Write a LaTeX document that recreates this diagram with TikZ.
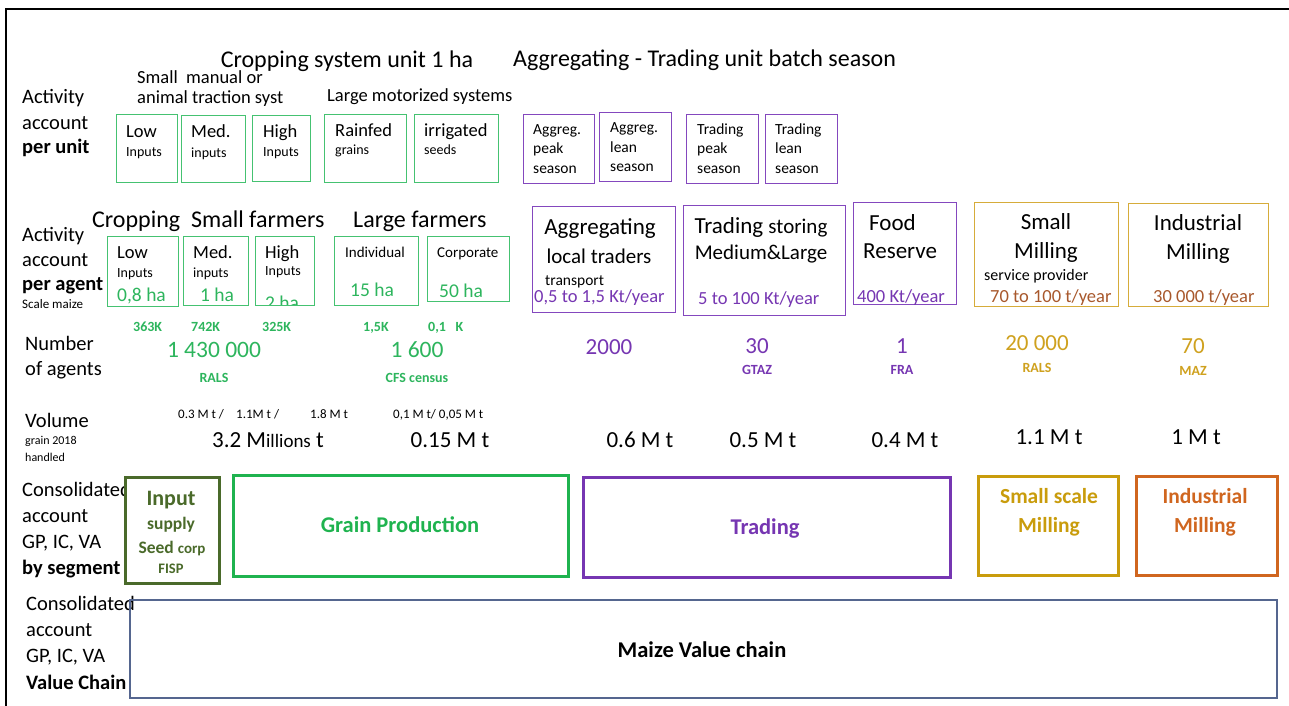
\documentclass[tikz,border=0pt]{standalone}
\usepackage{fontspec}
\setmainfont{Carlito}
\definecolor{lgreen}{HTML}{45C271}
\definecolor{tgreen}{HTML}{2DB55D}
\definecolor{gpgreen}{HTML}{1FB34F}
\definecolor{dgreen}{HTML}{4A6A2A}
\definecolor{purp}{HTML}{8448BE}
\definecolor{tpurp}{HTML}{7636B2}
\definecolor{gold}{HTML}{D6AC3A}
\definecolor{tgold}{HTML}{CFA11E}
\definecolor{segold}{HTML}{C99C0C}
\definecolor{brwn}{HTML}{A8582C}
\definecolor{orng}{HTML}{D0661F}
\definecolor{slate}{HTML}{55668F}
\newcommand\fsz[1]{\fontsize{#1}{#1}\selectfont}
\begin{document}
\begin{tikzpicture}[x=1pt,y=-1pt,
  box/.style={draw, anchor=north west, inner sep=0pt, line width=1.3pt},
  gbx/.style={box, draw=lgreen},
  pbx/.style={box, draw=purp},
  ybx/.style={box, draw=gold},
  seg/.style={draw, anchor=north west, inner sep=0pt, line width=3pt},
  lw/.style={inner sep=0pt, anchor=base west},
  lc/.style={inner sep=0pt, anchor=base}]
\useasboundingbox (0,0) rectangle (1289,706);
\fill[white] (0,0) rectangle (1289,706);
\draw[line width=2.5pt] (6,706) -- (6,9) -- (1289,9);

% ---------- row 1 : per unit ----------
\node[lc, font=\fsz{24}] (tcrop) at (347,68) {Cropping system unit 1 ha};
\node[lw, font=\fsz{24}] (tagg) at (513,67) {Aggregating - Trading unit batch season};
\node[lw, font=\fsz{18.5}] (small1) at (137,84) {Small\ \ manual or};
\node[lw, font=\fsz{18.5}] (small2) at (137,104) {animal traction syst};
\node[lw, font=\fsz{18.5}] (large1) at (327,102) {Large motorized systems};
\node[lw, font=\fsz{20.5}] (l1a) at (22,104) {Activity};
\node[lw, font=\fsz{20.5}] (l1b) at (22,129) {account};
\node[lw, font=\fsz{20.5}\bfseries] (l1c) at (22,153) {per unit};

\node[gbx, minimum width=61pt, minimum height=68pt] (u1) at (116,114) {};
\node[lw, font=\fsz{18.5}] (u1a) at (126,137) {Low};
\node[lw, font=\fsz{14}] (u1b) at (126,156) {Inputs};
\node[gbx, minimum width=64pt, minimum height=67pt] (u2) at (181,115) {};
\node[lw, font=\fsz{18.5}] (u2a) at (191,137) {Med.};
\node[lw, font=\fsz{14}] (u2b) at (191,157) {inputs};
\node[gbx, minimum width=58pt, minimum height=66pt] (u3) at (252,115) {};
\node[lw, font=\fsz{18.5}] (u3a) at (263,137) {High};
\node[lw, font=\fsz{14}] (u3b) at (263,156) {Inputs};
\node[gbx, minimum width=82pt, minimum height=68pt] (u4) at (324,114) {};
\node[lw, font=\fsz{18.5}] (u4a) at (335,136) {Rainfed};
\node[lw, font=\fsz{14}] (u4b) at (335,154) {grains};
\node[gbx, minimum width=84pt, minimum height=68pt] (u5) at (414,114) {};
\node[lw, font=\fsz{18.5}] (u5a) at (424,136) {irrigated};
\node[lw, font=\fsz{14}] (u5b) at (424,154) {seeds};

\node[pbx, minimum width=71pt, minimum height=69pt] (p1) at (523,114) {};
\node[lw, font=\fsz{15.5}] (p1a) at (533,135) {Aggreg.};
\node[lw, font=\fsz{15.5}] (p1b) at (533,153) {peak};
\node[lw, font=\fsz{15.5}] (p1c) at (533,173) {season};
\node[pbx, minimum width=72pt, minimum height=69pt] (p2) at (599,112) {};
\node[lw, font=\fsz{15.5}] (p2a) at (610,132) {Aggreg.};
\node[lw, font=\fsz{15.5}] (p2b) at (610,152) {lean};
\node[lw, font=\fsz{15.5}] (p2c) at (610,171) {season};
\node[pbx, minimum width=72pt, minimum height=69pt] (p3) at (686,114) {};
\node[lw, font=\fsz{15.5}] (p3a) at (697,135) {Trading};
\node[lw, font=\fsz{15.5}] (p3b) at (697,153) {peak};
\node[lw, font=\fsz{15.5}] (p3c) at (697,173) {season};
\node[pbx, minimum width=72pt, minimum height=69pt] (p4) at (765,114) {};
\node[lw, font=\fsz{15.5}] (p4a) at (775,135) {Trading};
\node[lw, font=\fsz{15.5}] (p4b) at (775,153) {lean};
\node[lw, font=\fsz{15.5}] (p4c) at (775,173) {season};

% ---------- row 2 : per agent ----------
\node[lw, font=\fsz{24}] (tcs) at (92,227) {Cropping\ \ Small farmers};
\node[lw, font=\fsz{24}] (tlf) at (353,227) {Large farmers};
\node[lw, font=\fsz{20.5}] (l2a) at (22,241) {Activity};
\node[lw, font=\fsz{20.5}] (l2b) at (22,266) {account};
\node[lw, font=\fsz{20.5}\bfseries] (l2c) at (22,290) {per agent};
\node[lw, font=\fsz{13}] (l2d) at (22,308) {Scale maize};

\node[gbx, minimum width=71pt, minimum height=70pt] (a1) at (107,236) {};
\node[lw, font=\fsz{18.5}] (a1a) at (117,258) {Low};
\node[lw, font=\fsz{14}] (a1b) at (117,277) {Inputs};
\node[lw, font=\fsz{19.5}, text=tgreen] (a1c) at (117,301) {0,8 ha};
\node[gbx, minimum width=65pt, minimum height=69pt] (a2) at (183,236) {};
\node[lw, font=\fsz{18.5}] (a2a) at (193,258) {Med.};
\node[lw, font=\fsz{14}] (a2b) at (193,277) {inputs};
\node[lw, font=\fsz{19.5}, text=tgreen] (a2c) at (200,301) {1 ha};
\begin{scope}
\clip (250,230) rectangle (320,304);
\node[lw, font=\fsz{19.5}, text=tgreen] (a3c) at (265,309) {2 ha};
\end{scope}
\node[gbx, minimum width=59pt, minimum height=69pt] (a3) at (255,236) {};
\node[lw, font=\fsz{18.5}] (a3a) at (265,258) {High};
\node[lw, font=\fsz{14}] (a3b) at (265,275) {Inputs};
\node[gbx, minimum width=84pt, minimum height=69pt] (a4) at (334,236) {};
\node[lw, font=\fsz{15}] (a4a) at (345,257) {Individual};
\node[lw, font=\fsz{19.5}, text=tgreen] (a4c) at (350,296) {15 ha};
\node[gbx, minimum width=82pt, minimum height=65pt] (a5) at (427,236) {};
\node[lw, font=\fsz{15}] (a5a) at (437,257) {Corporate};
\node[lw, font=\fsz{19.5}, text=tgreen] (a5c) at (439,297) {50 ha};

\node[pbx, minimum width=143pt, minimum height=106pt] (b1) at (532,206) {};
\node[lc, font=\fsz{23}] (b1a) at (600,234) {Aggregating};
\node[lc, font=\fsz{21}] (b1b) at (599,263) {local traders};
\node[lw, font=\fsz{15.5}] (b1c) at (545,285) {transport};
\node[lw, font=\fsz{18.5}, text=tpurp] (b1d) at (534,302) {0,5 to 1,5 Kt/year};
\node[pbx, minimum width=162pt, minimum height=110pt] (b2) at (683,205) {};
\node[lc, font=\fsz{23}] (b2a) at (761,233) {Trading {\fsz{21}storing}};
\node[lc, font=\fsz{21}] (b2b) at (761,259) {Medium\&Large};
\node[lw, font=\fsz{18.5}, text=tpurp] (b2d) at (698,304) {5 to 100 Kt/year};
\node[pbx, minimum width=103pt, minimum height=102pt] (b3) at (853,202) {};
\node[lw, font=\fsz{23}] (b3a) at (869,230) {Food};
\node[lw, font=\fsz{23}] (b3b) at (863,258) {Reserve};
\node[lw, font=\fsz{18.5}, text=tpurp] (b3d) at (857,302) {400 Kt/year};
\node[ybx, minimum width=144pt, minimum height=104pt] (b4) at (974,202) {};
\node[lc, font=\fsz{23}] (b4a) at (1046,229) {Small};
\node[lc, font=\fsz{23}] (b4b) at (1046,258) {Milling};
\node[lw, font=\fsz{16}] (b4c) at (984,280) {service provider};
\node[lw, font=\fsz{18.5}, text=brwn] (b4d) at (990,302) {70 to 100 t/year};
\node[ybx, minimum width=140pt, minimum height=103pt] (b5) at (1128,203) {};
\node[lc, font=\fsz{23}] (b5a) at (1198,230) {Industrial};
\node[lc, font=\fsz{23}] (b5b) at (1198,259) {Milling};
\node[lw, font=\fsz{18.5}, text=brwn] (b5d) at (1153,302) {30 000 t/year};

% ---------- row 3 : number of agents ----------
\node[lw, font=\fsz{20.5}] (l3a) at (25,350) {Number};
\node[lw, font=\fsz{20.5}] (l3b) at (25,375) {of agents};
\node[lw, font=\fsz{14}\bfseries, text=tgreen] (n1) at (133,331) {363K};
\node[lw, font=\fsz{14}\bfseries, text=tgreen] (n2) at (191,331) {742K};
\node[lw, font=\fsz{14}\bfseries, text=tgreen] (n3) at (262,331) {325K};
\node[lw, font=\fsz{14}\bfseries, text=tgreen] (n4) at (363,331) {1,5K};
\node[lw, font=\fsz{14}\bfseries, text=tgreen] (n5) at (428,331) {0,1\ \ \ K};
\node[lc, font=\fsz{23.5}, text=tgreen] (n6) at (214,357) {1 430 000};
\node[lc, font=\fsz{14}\bfseries, text=tgreen] (n6s) at (214,382) {RALS};
\node[lc, font=\fsz{23.5}, text=tgreen] (n7) at (417,357) {1 600};
\node[lc, font=\fsz{14}\bfseries, text=tgreen] (n7s) at (417,382) {CFS census};
\node[lc, font=\fsz{23}, text=tpurp] (n8) at (609,354) {2000};
\node[lc, font=\fsz{23}, text=tpurp] (n9) at (757,353) {30};
\node[lc, font=\fsz{14}\bfseries, text=tpurp] (n9s) at (757,374) {GTAZ};
\node[lc, font=\fsz{23}, text=tpurp] (n10) at (902,353) {1};
\node[lc, font=\fsz{14}\bfseries, text=tpurp] (n10s) at (902,374) {FRA};
\node[lc, font=\fsz{23}, text=tgold] (n11) at (1037,350) {20 000};
\node[lc, font=\fsz{14}\bfseries, text=tgold] (n11s) at (1037,372) {RALS};
\node[lc, font=\fsz{23}, text=tgold] (n12) at (1193,353) {70};
\node[lc, font=\fsz{14}\bfseries, text=tgold] (n12s) at (1193,375) {MAZ};

% ---------- row 4 : volume ----------
\node[lw, font=\fsz{20.5}] (l4a) at (25,427) {Volume};
\node[lw, font=\fsz{12}] (l4b) at (25,444) {grain 2018};
\node[lw, font=\fsz{12}] (l4c) at (25,461) {handled};
\node[lw, font=\fsz{13}] (v1) at (178,418) {0.3 M t /};
\node[lw, font=\fsz{13}] (v2) at (236,418) {1.1M t /};
\node[lw, font=\fsz{13}] (v3) at (310,418) {1.8 M t};
\node[lw, font=\fsz{13}] (v4) at (393,418) {0,1 M t/ 0,05 M t};
\node[lc, font=\fsz{23}] (v5) at (268,447) {3.2 M{\fsz{19}illions} t};
\node[lc, font=\fsz{23}] (v6) at (450,447) {0.15 M t};
\node[lc, font=\fsz{23}] (v7) at (640,447) {0.6 M t};
\node[lc, font=\fsz{23}] (v8) at (763,447) {0.5 M t};
\node[lc, font=\fsz{23}] (v9) at (905,447) {0.4 M t};
\node[lc, font=\fsz{23}] (v10) at (1049,444) {1.1 M t};
\node[lc, font=\fsz{23}] (v11) at (1196,444) {1 M t};

% ---------- row 5 : by segment ----------
\node[lw, font=\fsz{20.5}] (l5a) at (22,496) {Consolidated};
\node[lw, font=\fsz{20.5}] (l5b) at (22,522) {account};
\node[lw, font=\fsz{20.5}] (l5c) at (22,548) {GP, IC, VA};
\node[lw, font=\fsz{20.5}\bfseries] (l5d) at (22,574) {by segment};
\node[seg, draw=dgreen, fill=white, minimum width=94pt, minimum height=106pt] (s1) at (124,476) {};
\node[lc, font=\fsz{22}\bfseries, text=dgreen] (s1a) at (171,505) {Input};
\node[lc, font=\fsz{17.5}\bfseries, text=dgreen] (s1b) at (171,529) {supply};
\node[lc, font=\fsz{17.5}\bfseries, text=dgreen] (s1c) at (172,553) {Seed {\fsz{15}corp}};
\node[lc, font=\fsz{14.5}\bfseries, text=dgreen] (s1d) at (171,573) {FISP};
\node[seg, draw=gpgreen, minimum width=335pt, minimum height=101pt] (s2) at (232,474) {};
\node[lc, font=\fsz{22.5}\bfseries, text=gpgreen] (s2a) at (400,532) {Grain Production};
\node[seg, draw=tpurp, minimum width=367pt, minimum height=100pt] (s3) at (582,476) {};
\node[lc, font=\fsz{22.5}\bfseries, text=tpurp] (s3a) at (765,534) {Trading};
\node[seg, draw=segold, minimum width=140pt, minimum height=99pt] (s4) at (977,475) {};
\node[lc, font=\fsz{21.5}\bfseries, text=segold] (s4a) at (1049,503) {Small scale};
\node[lc, font=\fsz{21.5}\bfseries, text=segold] (s4b) at (1049,532) {Milling};
\node[seg, draw=orng, minimum width=141pt, minimum height=99pt] (s5) at (1135,475) {};
\node[lc, font=\fsz{21.5}\bfseries, text=orng] (s5a) at (1205,503) {Industrial};
\node[lc, font=\fsz{21.5}\bfseries, text=orng] (s5b) at (1205,532) {Milling};

% ---------- row 6 : value chain ----------
\node[lw, font=\fsz{20.5}] (l6a) at (26,610) {Consolidated};
\node[lw, font=\fsz{20.5}] (l6b) at (26,636) {account};
\node[lw, font=\fsz{20.5}] (l6c) at (26,662) {GP, IC, VA};
\node[lw, font=\fsz{20.5}\bfseries] (l6d) at (26,689) {Value Chain};
\node[box, draw=slate, line width=1.5pt, minimum width=1147pt, minimum height=98pt] (vc) at (129,599) {};
\node[lc, font=\fsz{22.5}\bfseries] (vca) at (702,657) {Maize Value chain};
\end{tikzpicture}
\end{document}
